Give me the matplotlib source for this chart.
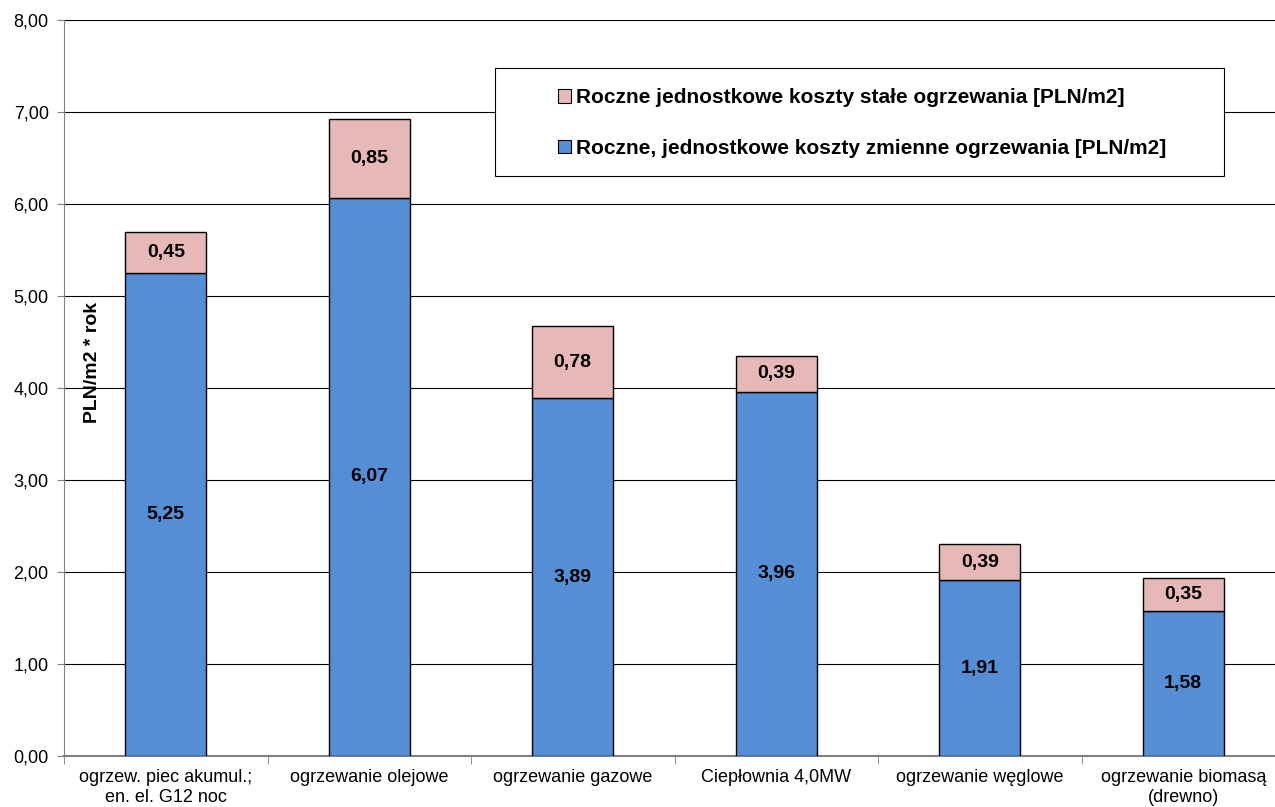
import matplotlib
matplotlib.use("Agg")
import matplotlib.pyplot as plt
from matplotlib.patches import Patch, Rectangle

categories = ["ogrzew. piec akumul.;\nen. el. G12 noc", "ogrzewanie olejowe", "ogrzewanie gazowe",
              "Ciepłownia 4,0MW", "ogrzewanie węglowe", "ogrzewanie biomasą\n(drewno)"]
variable_costs = [5.25, 6.07, 3.89, 3.96, 1.91, 1.58]
fixed_costs = [0.45, 0.85, 0.78, 0.39, 0.39, 0.35]
yticks = [0, 1, 2, 3, 4, 5, 6, 7, 8]

plt.rcParams["font.family"] = ["Liberation Sans", "DejaVu Sans"]

blue = "#558ED5"
pink = "#E6B9B8"
W, H = 1275, 807

fig = plt.figure(figsize=(W / 100, H / 100), dpi=100)
ax = fig.add_axes([64 / W, 1 - 756 / H, 1221 / W, 736 / H])

x = range(len(categories))
ax.bar(x, variable_costs, width=0.40, color=blue, edgecolor="black", linewidth=1.0, zorder=3)
ax.bar(x, fixed_costs, bottom=variable_costs, width=0.40, color=pink, edgecolor="black",
       linewidth=1.0, zorder=3)

for i, (v, f) in enumerate(zip(variable_costs, fixed_costs)):
    ax.text(i, v / 2, f"{v:.2f}".replace(".", ","), ha="center", va="center",
            fontsize=14, fontweight="bold", zorder=4)
    ax.text(i, v + f / 2, f"{f:.2f}".replace(".", ","), ha="center", va="center",
            fontsize=14, fontweight="bold", zorder=4)

ax.set_xlim(-0.5, len(categories) - 0.5)
ax.set_ylim(0, 8)
ax.set_yticks(yticks)
ax.set_yticklabels([f"{t:.2f}".replace(".", ",") for t in yticks], fontsize=13)
ax.yaxis.grid(True, color="black", linewidth=0.8, zorder=0)
ax.set_axisbelow(True)

ax.set_xticks(list(x))
ax.set_xticklabels(categories, fontsize=13, linespacing=1.3)
ax.set_xticks([i + 0.5 for i in range(-1, len(categories))], minor=True)
ax.tick_params(axis="x", which="major", length=0, pad=9)
ax.tick_params(axis="x", which="minor", length=6, direction="out", color="#808080")
ax.tick_params(axis="y", length=5, direction="out", color="#808080", pad=6)

for s in ["top", "right"]:
    ax.spines[s].set_visible(False)
ax.spines["left"].set_color("#808080")
ax.spines["bottom"].set_color("#808080")
ax.spines["bottom"].set_linewidth(1.5)

ax.text(0.023, 0.535, "PLN/m2 * rok", transform=ax.transAxes, rotation=90, ha="center",
        va="center", fontsize=14, fontweight="bold")

# legend frame and entries
fig.add_artist(Rectangle((495 / W, 1 - 176 / H), (1224 - 495) / W, 108 / H,
                         transform=fig.transFigure, facecolor="white", edgecolor="black",
                         linewidth=0.8, zorder=5))
handles = [Patch(facecolor=pink, edgecolor="black", linewidth=0.8,
                 label="Roczne jednostkowe koszty stałe ogrzewania [PLN/m2]"),
           Patch(facecolor=blue, edgecolor="black", linewidth=0.8,
                 label="Roczne, jednostkowe koszty zmienne ogrzewania [PLN/m2]")]
leg = fig.legend(handles=handles, loc="center left", bbox_to_anchor=(558 / W, 1 - 123 / H),
                 frameon=False, prop={"weight": "bold", "size": 15},
                 handlelength=0.6, handleheight=0.6, handletextpad=0.25,
                 labelspacing=1.5, borderpad=0, borderaxespad=0)
leg.set_zorder(6)

fig.savefig("out.png", dpi=100)
